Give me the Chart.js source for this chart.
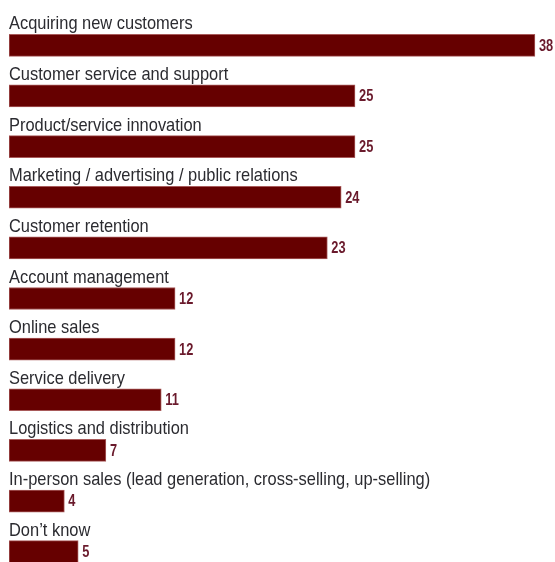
<!DOCTYPE html>
<html>
<head>
<meta charset="utf-8">
<script src="https://cdn.jsdelivr.net/npm/chart.js@4"></script>
<style>
  html, body { margin: 0; padding: 0; background: #fff; overflow: hidden; }
  #wrap { position: relative; width: 555px; height: 580px; }
</style>
</head>
<body>
<div id="wrap"><canvas id="chart"></canvas></div>
<script>
const categories = [
  "Acquiring new customers",
  "Customer service and support",
  "Product/service innovation",
  "Marketing / advertising / public relations",
  "Customer retention",
  "Account management",
  "Online sales",
  "Service delivery",
  "Logistics and distribution",
  "In-person sales (lead generation, cross-selling, up-selling)",
  "Don\u2019t know"
];
const values = [38, 25, 25, 24, 23, 12, 12, 11, 7, 4, 5];

const LABEL_FONT = '19px "Liberation Sans", Arial, sans-serif';
const VALUE_FONT = 'bold 16px "Liberation Sans", Arial, sans-serif';
const LABEL_SQUEEZE = 0.865; // horizontal squeeze for a condensed look
const VALUE_SQUEEZE = 0.8;

// Draw text squeezed horizontally, anchored at its left edge.
function narrowText(ctx, text, x, y, squeeze) {
  ctx.save();
  ctx.translate(x, y);
  ctx.scale(squeeze, 1);
  ctx.fillText(text, 0, 0);
  ctx.restore();
}

// Category names sit above each bar; values sit just past its end.
const barLabels = {
  id: 'barLabels',
  afterDatasetsDraw(chart) {
    const ctx = chart.ctx;
    const meta = chart.getDatasetMeta(0);
    const left = chart.chartArea.left;
    ctx.save();
    ctx.textAlign = 'left';
    meta.data.forEach((bar, i) => {
      const p = bar.getProps(['x', 'y', 'height'], true);
      const top = p.y - p.height / 2;
      ctx.font = LABEL_FONT;
      ctx.fillStyle = '#2b2b30';
      ctx.textBaseline = 'alphabetic';
      narrowText(ctx, categories[i], left, top - 5, LABEL_SQUEEZE);
      ctx.font = VALUE_FONT;
      ctx.fillStyle = '#6a1a2c';
      ctx.textBaseline = 'middle';
      narrowText(ctx, String(values[i]), p.x + 4, p.y + 1, VALUE_SQUEEZE);
    });
    ctx.restore();
  }
};

new Chart(document.getElementById('chart'), {
  type: 'bar',
  data: {
    labels: categories,
    datasets: [{
      data: values,
      backgroundColor: '#660000',
      borderColor: '#a85a5a',
      borderWidth: 1,
      borderSkipped: false,
      barThickness: 22
    }]
  },
  options: {
    indexAxis: 'y',
    responsive: true,
    maintainAspectRatio: false,
    animation: false,
    layout: { padding: { left: 9, right: 0, top: 20, bottom: 3 } },
    plugins: { legend: { display: false }, tooltip: { enabled: false } },
    scales: {
      x: { display: false, min: 0, max: 39.45, grid: { display: false } },
      y: { display: false, grid: { display: false } }
    }
  },
  plugins: [barLabels]
});
</script>
</body>
</html>
